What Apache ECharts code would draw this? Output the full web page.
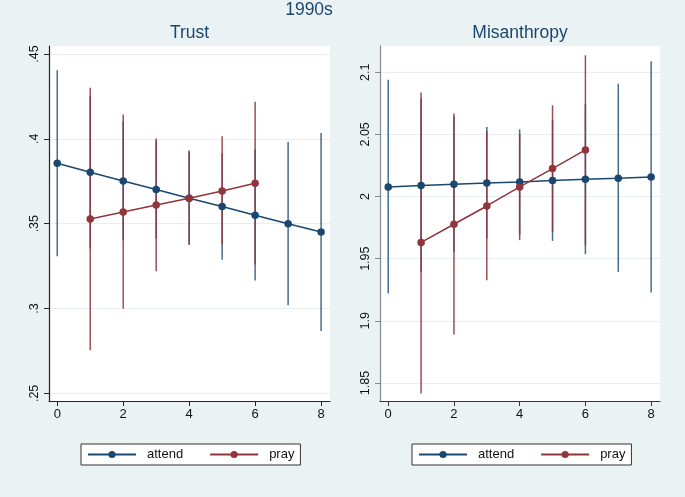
<!DOCTYPE html>
<html>
<head>
<meta charset="utf-8">
<script src="https://cdn.jsdelivr.net/npm/echarts@6/dist/echarts.min.js"></script>
<style>
html,body{margin:0;padding:0;background:#eaf2f3;}
#chart{width:685px;height:497px;}
</style>
</head>
<body>
<div id="chart"></div>
<script>
// ---- data ----
const mainTitle = '1990s';
const panelTitles = ['Trust', 'Misanthropy'];
const seriesNames = ['attend', 'pray'];
const xTicks = [0, 2, 4, 6, 8];
const xAttend = [0, 1, 2, 3, 4, 5, 6, 7, 8];
const xPray = [1, 2, 3, 4, 5, 6];

const trustTicks = [0.25, 0.3, 0.35, 0.4, 0.45];
const trustAttendMean = [0.3856, 0.3803, 0.3752, 0.3701, 0.3650, 0.3601, 0.3550, 0.3500, 0.3451];
const trustAttendLo   = [0.3308, 0.3353, 0.3402, 0.3411, 0.3375, 0.3288, 0.3165, 0.3019, 0.2868];
const trustAttendHi   = [0.4404, 0.4253, 0.4102, 0.3991, 0.3925, 0.3913, 0.3937, 0.3982, 0.4035];
const trustPrayMean = [0.3528, 0.3569, 0.3610, 0.3650, 0.3693, 0.3738];
const trustPrayLo   = [0.2754, 0.2998, 0.3219, 0.3377, 0.3377, 0.3259];
const trustPrayHi   = [0.4301, 0.4143, 0.4002, 0.3931, 0.4015, 0.4218];

const misTicks = [1.85, 1.9, 1.95, 2, 2.05, 2.1];
const misAttendMean = [2.0077, 2.0088, 2.0099, 2.0109, 2.0117, 2.0129, 2.0139, 2.0147, 2.0158];
const misAttendLo   = [1.9220, 1.9394, 1.9555, 1.9662, 1.9693, 1.9643, 1.9536, 1.9394, 1.9228];
const misAttendHi   = [2.0940, 2.0788, 2.0643, 2.0559, 2.0541, 2.0613, 2.0742, 2.0908, 2.1088];
const misPrayMean = [1.9631, 1.9777, 1.9924, 2.0077, 2.0225, 2.0375];
const misPrayLo   = [1.8416, 1.8891, 1.9327, 1.9649, 1.9715, 1.9609];
const misPrayHi   = [2.0836, 2.0667, 2.0527, 2.0506, 2.0734, 2.1136];

// ---- style ----
const BLUE = '#1a476f', RED = '#90353b', NAVY = '#1a476f';
const FONT = '"Liberation Sans", Arial, sans-serif';

function pts(xs, ys) { return xs.map((x, i) => [x, ys[i]]); }
function ci(xs, lo, hi) { return xs.map((x, i) => [x, lo[i], hi[i]]); }

function ciSeries(idx, data, color, op) {
  return {
    type: 'custom', xAxisIndex: idx, yAxisIndex: idx, silent: true, z: 2,
    encode: { x: 0, y: [1, 2] },
    data: data,
    renderItem: function (params, api) {
      const a = api.coord([api.value(0), api.value(1)]);
      const b = api.coord([api.value(0), api.value(2)]);
      return { type: 'line', shape: { x1: a[0], y1: a[1], x2: b[0], y2: b[1] },
               style: { stroke: color, lineWidth: 1.5, opacity: op } };
    }
  };
}
function lineSeries(idx, name, data, color) {
  return {
    type: 'line', name: name, xAxisIndex: idx, yAxisIndex: idx, z: 3,
    data: data, symbol: 'circle', symbolSize: 7.5, showSymbol: true,
    lineStyle: { color: color, width: 1.5 }, itemStyle: { color: color }
  };
}
function fmt(v) { return String(+v.toFixed(3)).replace(/^0\./, '.'); }

function xAxis(idx, axisColor) {
  return {
    type: 'value', gridIndex: idx, min: -0.25, max: 8.27,
    axisLine: { show: true, onZero: false, lineStyle: { color: axisColor, width: 1.2 } },
    axisTick: { show: true, length: 5, customValues: xTicks, lineStyle: { color: axisColor } },
    axisLabel: { customValues: xTicks, margin: 7, fontSize: 13, color: '#111', fontFamily: FONT },
    splitLine: { show: false }
  };
}
function yAxis(idx, min, max, ticks, axisColor) {
  return {
    type: 'value', gridIndex: idx, min: min, max: max,
    axisLine: { show: true, onZero: false, lineStyle: { color: axisColor, width: 1.2 } },
    axisTick: { show: true, length: 5, customValues: ticks, lineStyle: { color: axisColor } },
    axisLabel: { customValues: ticks, rotate: 90, margin: 8, fontSize: 12.5, color: '#111',
                 fontFamily: FONT, formatter: fmt },
    splitLine: { show: true, lineStyle: { color: '#e6eef1', width: 1 } }
  };
}
function legend(left) {
  return {
    data: seriesNames, left: left, top: 444, orient: 'horizontal',
    backgroundColor: '#fff', borderColor: '#333', borderWidth: 1,
    padding: [4, 6, 4, 6], itemWidth: 48, itemHeight: 9, itemGap: 26,
    textStyle: { fontSize: 13, color: '#111', fontFamily: FONT, padding: [0, 0, 0, 6] },
    selectedMode: false
  };
}

const option = {
  backgroundColor: '#eaf2f3',
  animation: false,
  graphic: [
    { type: 'text', x: 309, y: 10, style: { text: mainTitle, align: 'center', verticalAlign: 'middle',
      font: '17.5px ' + FONT, fill: NAVY } },
    { type: 'text', x: 189.5, y: 33, style: { text: panelTitles[0], align: 'center', verticalAlign: 'middle',
      font: '17.5px ' + FONT, fill: NAVY } },
    { type: 'text', x: 520, y: 33, style: { text: panelTitles[1], align: 'center', verticalAlign: 'middle',
      font: '17.5px ' + FONT, fill: NAVY } }
  ],
  grid: [
    { left: 49, width: 281, top: 46, height: 355, show: true, backgroundColor: '#fff', borderWidth: 0, outerBoundsMode: 'none' },
    { left: 380, width: 280, top: 46, height: 355, show: true, backgroundColor: '#fff', borderWidth: 0, outerBoundsMode: 'none' }
  ],
  xAxis: [xAxis(0, '#222'), xAxis(1, '#333')],
  yAxis: [yAxis(0, 0.2455, 0.4547, trustTicks, '#222'), yAxis(1, 1.8355, 2.1211, misTicks, '#888')],
  legend: [legend(81), legend(412)],
  series: [
    ciSeries(0, ci(xAttend, trustAttendLo, trustAttendHi), BLUE, 0.8),
    ciSeries(0, ci(xPray, trustPrayLo, trustPrayHi), RED, 0.88),
    lineSeries(0, seriesNames[0], pts(xAttend, trustAttendMean), BLUE),
    lineSeries(0, seriesNames[1], pts(xPray, trustPrayMean), RED),
    ciSeries(1, ci(xAttend, misAttendLo, misAttendHi), BLUE, 0.8),
    ciSeries(1, ci(xPray, misPrayLo, misPrayHi), RED, 0.88),
    lineSeries(1, seriesNames[0], pts(xAttend, misAttendMean), BLUE),
    lineSeries(1, seriesNames[1], pts(xPray, misPrayMean), RED)
  ]
};
const chart = echarts.init(document.getElementById('chart'), null, { renderer: 'canvas' });
chart.setOption(option);
</script>
</body>
</html>
